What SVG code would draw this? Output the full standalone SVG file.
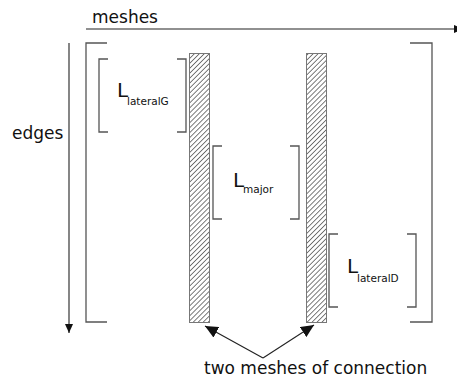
<svg xmlns="http://www.w3.org/2000/svg" width="457" height="382" viewBox="0 0 457 382">
<style>
text{font-family:"DejaVu Sans","Liberation Sans",sans-serif;fill:#111}
.lbl{font-size:17px}
.big{font-size:20px}
.sub{font-size:10.5px}
.br{fill:none;stroke:#555;stroke-width:1.3}
.ax{fill:none;stroke:#222;stroke-width:1.1}
.col{fill:url(#hatch);stroke:#777;stroke-width:1}
</style>
<defs>
<pattern id="hatch" patternUnits="userSpaceOnUse" width="3.5" height="3.5" patternTransform="rotate(45)">
<rect width="3.5" height="3.5" fill="#fff"/>
<line x1="0" y1="0" x2="0" y2="3.5" stroke="#444" stroke-width="1.4"/>
</pattern>
<marker id="ah" markerWidth="10" markerHeight="10" refX="9" refY="5" orient="auto" markerUnits="userSpaceOnUse">
<path d="M0,1 L9,5 L0,9 Z" fill="#111"/>
</marker>
<marker id="ah2" markerWidth="14" markerHeight="12" refX="13" refY="6" orient="auto" markerUnits="userSpaceOnUse">
<path d="M0,0 L13,6 L0,12 Z" fill="#111"/>
</marker>
</defs>
<g id="axes">
<text class="lbl" x="92" y="23">meshes</text>
<line class="ax" x1="86" y1="29" x2="463" y2="29" marker-end="url(#ah)"/>
<text class="lbl" x="12" y="139">edges</text>
<line class="ax" x1="69" y1="43" x2="69" y2="333" marker-end="url(#ah)"/>
</g>
<g id="outer-bracket">
<path class="br" d="M107,43 H86 V322 H107"/>
<path class="br" d="M410,43 H432 V322 H410"/>
</g>
<g id="mesh-left">
<rect class="col" x="189.5" y="53.5" width="20" height="269"/>
</g>
<g id="mesh-right">
<rect class="col" x="306.5" y="53.5" width="20" height="269"/>
</g>
<g id="lateralG">
<path class="br" d="M108,59 H99 V132 H108"/>
<path class="br" d="M177,59 H186 V132 H177"/>
<text class="big" x="117" y="97">L</text>
<text class="sub" x="127" y="105">lateralG</text>
</g>
<g id="major">
<path class="br" d="M222,146 H213 V219 H222"/>
<path class="br" d="M290,146 H299 V219 H290"/>
<text class="big" x="233" y="187">L</text>
<text class="sub" x="243" y="193">major</text>
</g>
<g id="lateralD">
<path class="br" d="M338,234 H329 V307 H338"/>
<path class="br" d="M407,234 H416 V307 H407"/>
<text class="big" x="347" y="273">L</text>
<text class="sub" x="357" y="282">lateralD</text>
</g>
<g id="connectors">
<line class="ax" x1="263" y1="358" x2="205" y2="326" marker-end="url(#ah2)"/>
<line class="ax" x1="263" y1="358" x2="314" y2="325" marker-end="url(#ah2)"/>
</g>
<g id="caption">
<text class="lbl" x="204" y="374">two meshes of connection</text>
</g>
</svg>
